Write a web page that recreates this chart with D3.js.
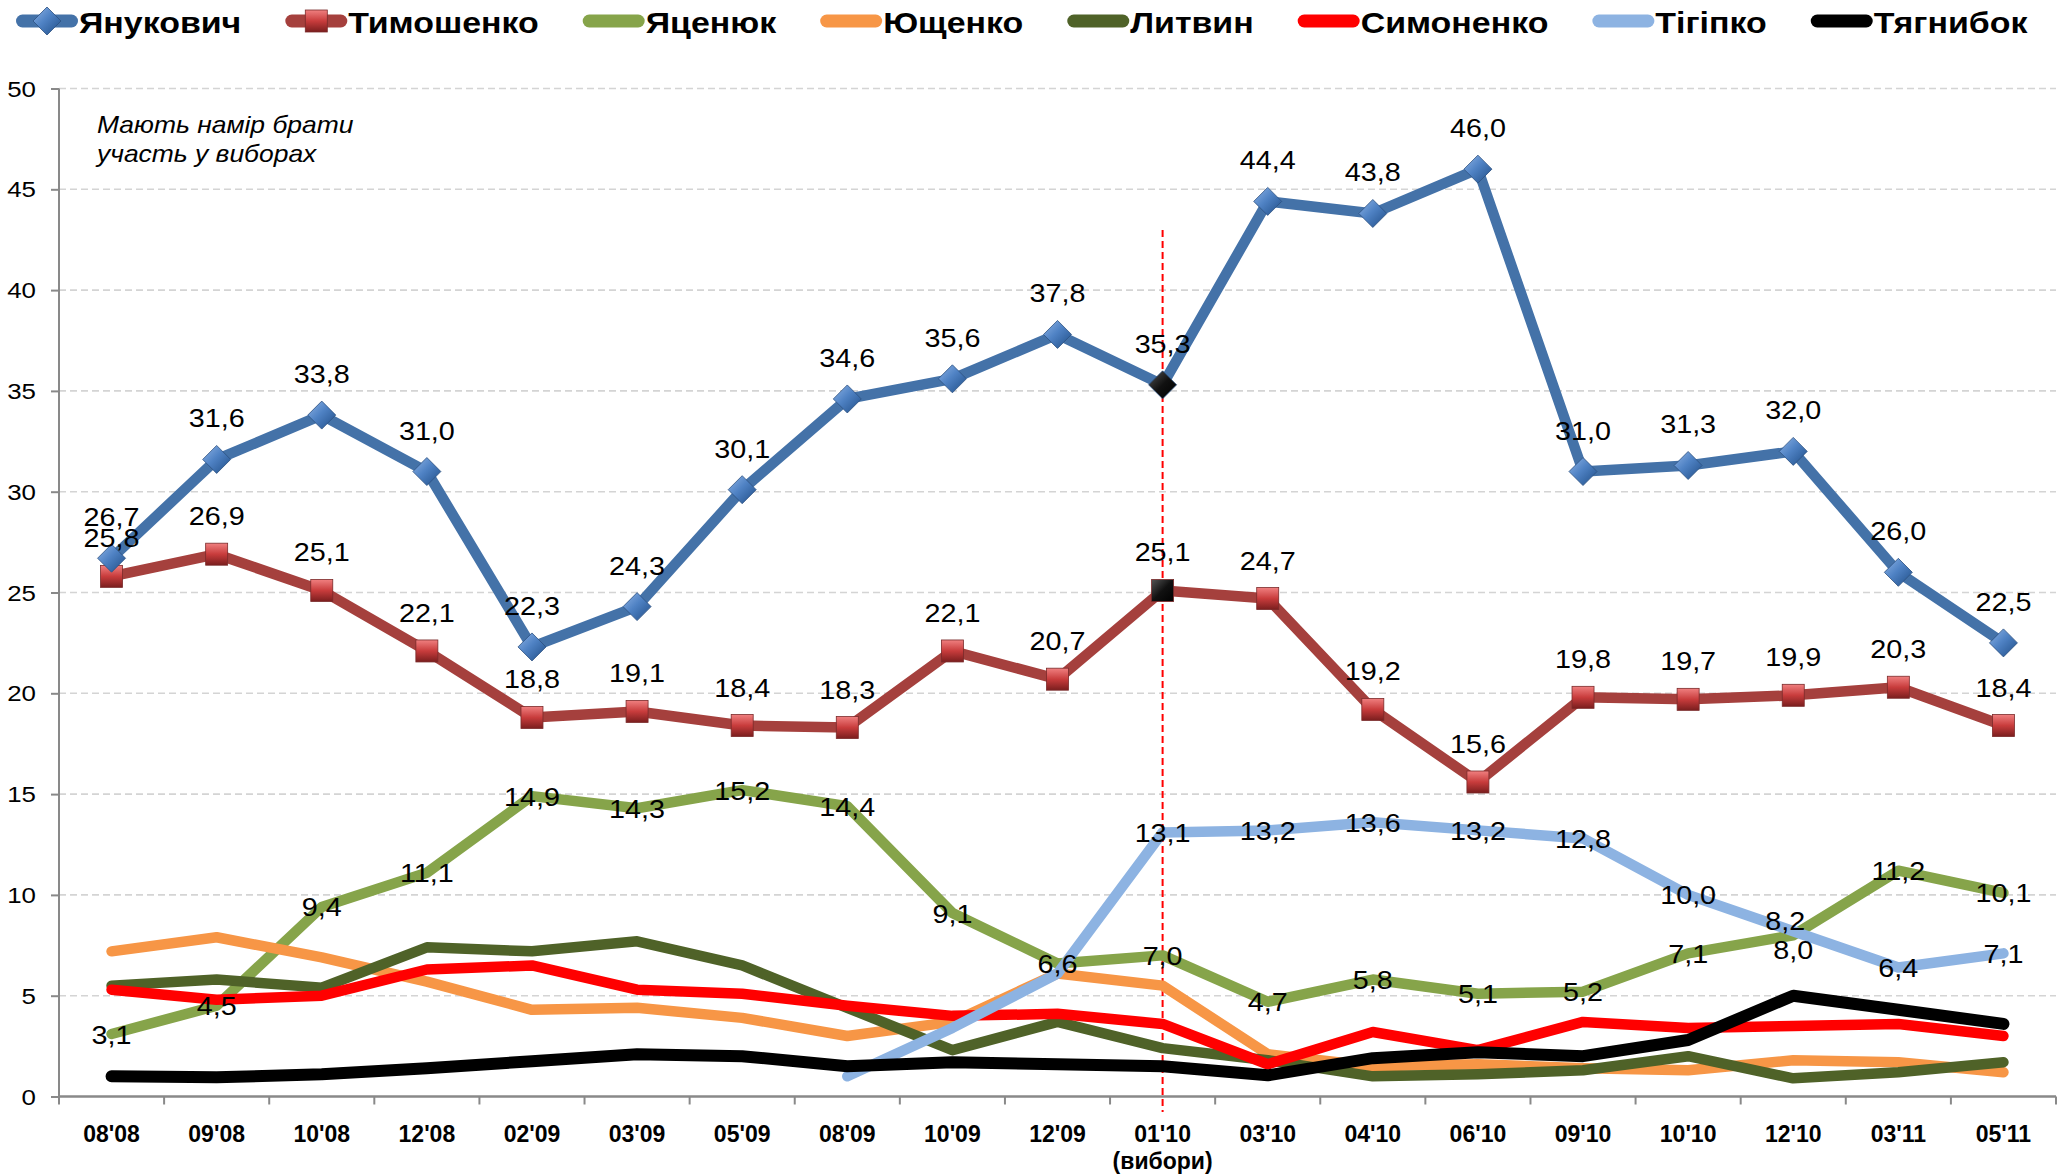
<!DOCTYPE html>
<html>
<head>
<meta charset="utf-8">
<script src="https://cdn.jsdelivr.net/npm/d3@7"></script>
<style>
  html, body { margin: 0; padding: 0; background: #ffffff; }
  svg { display: block; font-family: "Liberation Sans", Arial, sans-serif; }
</style>
</head>
<body>
<svg id="chart" width="2058" height="1176"></svg>
<script>
// ---------------- DATA ----------------
const categories = ["08'08","09'08","10'08","12'08","02'09","03'09","05'09","08'09","10'09","12'09",
                    "01'10","03'10","04'10","06'10","09'10","10'10","12'10","03'11","05'11"];
const electionCategory = "01'10";
const electionNote = "(вибори)";

const seriesNames = ["Янукович","Тимошенко","Яценюк","Ющенко","Литвин","Симоненко","Тігіпко","Тягнибок"];

const yanukovych = [26.7,31.6,33.8,31.0,22.3,24.3,30.1,34.6,35.6,37.8,35.3,44.4,43.8,46.0,31.0,31.3,32.0,26.0,22.5];
const tymoshenko = [25.8,26.9,25.1,22.1,18.8,19.1,18.4,18.3,22.1,20.7,25.1,24.7,19.2,15.6,19.8,19.7,19.9,20.3,18.4];
const yatseniuk  = [3.1,4.5,9.4,11.1,14.9,14.3,15.2,14.4,9.1,6.6,7.0,4.7,5.8,5.1,5.2,7.1,8.0,11.2,10.1];
const yushchenko = [7.2,7.9,6.9,5.7,4.3,4.4,3.9,3.0,3.7,6.1,5.5,2.1,1.5,1.6,1.4,1.3,1.8,1.7,1.2];
const lytvyn     = [5.5,5.8,5.4,7.4,7.2,7.7,6.5,4.4,2.3,3.7,2.4,1.8,1.0,1.1,1.3,2.0,0.9,1.2,1.7];
const symonenko  = [5.3,4.8,5.0,6.3,6.5,5.3,5.1,4.5,4.0,4.1,3.6,1.6,3.2,2.3,3.7,3.4,3.5,3.6,3.0];
const tihipko    = [null,null,null,null,null,null,null,1.0,3.4,6.1,13.1,13.2,13.6,13.2,12.8,10.0,8.2,6.4,7.1];
const tyahnybok  = [1.0,0.95,1.1,1.4,1.75,2.1,2.0,1.5,1.7,1.6,1.5,1.05,1.9,2.2,2.0,2.8,5.0,4.3,3.6];

// which points carry a value label (index from which labels start)
const labelFrom = { "Янукович": 0, "Тимошенко": 0, "Яценюк": 0, "Тігіпко": 10 };

const yTicks = [0,5,10,15,20,25,30,35,40,45,50];
const noteLines = ["Мають намір брати", "участь у виборах"];

// ---------------- STYLE ----------------
const W = 2058, H = 1176;
const plot = { left: 59, right: 2056, top: 88.5, bottom: 1096.5 };
const SX = 1.15; // horizontal text stretch of the reference
const colors = {
  "Янукович": "#4472A8", "Тимошенко": "#A5403D", "Яценюк": "#86A44A", "Ющенко": "#F79646",
  "Литвин": "#4F6228", "Симоненко": "#FF0000", "Тігіпко": "#8DB3E2", "Тягнибок": "#000000"
};
const widths = { "Тягнибок": 12 };
const seriesValues = [yanukovych, tymoshenko, yatseniuk, yushchenko, lytvyn, symonenko, tihipko, tyahnybok];
const series = seriesNames.map((n, i) => ({ name: n, values: seriesValues[i] }));

const svg = d3.select("#chart");
const defs = svg.append("defs");

function linGrad(id, stops, x1, y1, x2, y2) {
  const g = defs.append("linearGradient").attr("id", id)
    .attr("x1", x1).attr("y1", y1).attr("x2", x2).attr("y2", y2);
  stops.forEach(s => g.append("stop").attr("offset", s[0]).attr("stop-color", s[1]));
}
linGrad("gBlue", [["0%","#8fb4e6"],["45%","#4f82c4"],["100%","#1f4d86"]], "0%","0%","100%","100%");
linGrad("gRed", [["0%","#f08080"],["50%","#c83c3c"],["100%","#7a1e1e"]], "0%","0%","0%","100%");
linGrad("gBlack", [["0%","#555"],["50%","#111"],["100%","#000"]], "0%","0%","100%","100%");

const x = d3.scaleBand().domain(categories).range([plot.left, plot.right]).paddingInner(0).paddingOuter(0);
const y = d3.scaleLinear().domain([0, 50]).range([plot.bottom, plot.top]);
const cx = c => x(c) + x.bandwidth() / 2;

function stretchedText(sel, tx, ty, txt) {
  return sel.append("text").attr("transform", `translate(${tx},${ty}) scale(${SX},1)`).text(txt);
}

// gridlines
svg.append("g").selectAll("line").data(yTicks.filter(t => t > 0)).join("line")
  .attr("x1", plot.left).attr("x2", plot.right)
  .attr("y1", d => y(d)).attr("y2", d => y(d))
  .attr("stroke", "#d4d4d4").attr("stroke-width", 1.6).attr("stroke-dasharray", "7,4");

// y axis
const yAxis = svg.append("g").attr("transform", `translate(${plot.left},0)`)
  .call(d3.axisLeft(y).tickValues(yTicks).tickSize(8).tickFormat(""));
yAxis.select(".domain").attr("stroke", "#898989").attr("stroke-width", 2).attr("d", `M0,${plot.top}V${plot.bottom}`);
yAxis.selectAll(".tick line").attr("stroke", "#898989").attr("stroke-width", 2);
const yLab = svg.append("g").attr("font-size", 22.5).attr("text-anchor", "end").attr("fill", "#000");
yTicks.forEach(t => stretchedText(yLab, 36, y(t) + 8, String(t)));

// x axis
const xAxis = svg.append("g").attr("transform", `translate(0,${plot.bottom})`)
  .call(d3.axisBottom(x).tickSize(0).tickFormat(""));
xAxis.select(".domain").attr("stroke", "#898989").attr("stroke-width", 2.5).attr("d", `M${plot.left},0H${plot.right}`);
const bounds = categories.map(c => x(c)).concat([plot.right]);
svg.append("g").selectAll("line").data(bounds).join("line")
  .attr("x1", d => d).attr("x2", d => d).attr("y1", plot.bottom).attr("y2", plot.bottom + 8)
  .attr("stroke", "#898989").attr("stroke-width", 2);
const xLab = svg.append("g").attr("font-size", 23).attr("font-weight", "bold").attr("text-anchor", "middle");
categories.forEach(c => xLab.append("text").attr("x", cx(c)).attr("y", 1142).text(c));
xLab.append("text").attr("x", cx(electionCategory)).attr("y", 1169).text(electionNote);

// election dashed line
svg.append("line").attr("x1", cx(electionCategory)).attr("x2", cx(electionCategory))
  .attr("y1", 230).attr("y2", 1112)
  .attr("stroke", "#ff0000").attr("stroke-width", 2).attr("stroke-dasharray", "7,4");

// lines (draw lower series first, main series on top)
const line = d3.line().defined(d => d.v != null).x(d => cx(d.c)).y(d => y(d.v));
const drawOrder = ["Яценюк","Ющенко","Литвин","Симоненко","Тігіпко","Тягнибок","Тимошенко","Янукович"];
const linesG = svg.append("g");
drawOrder.forEach(n => {
  const s = series.find(d => d.name === n);
  const pts = s.values.map((v, i) => ({ c: categories[i], v }));
  linesG.append("path").datum(pts).attr("d", line)
    .attr("fill", "none").attr("stroke", colors[n]).attr("stroke-width", widths[n] || 10.5)
    .attr("stroke-linejoin", "round").attr("stroke-linecap", "round");
});

// markers
const mk = svg.append("g");
function diamond(g, px, py, r, fill) {
  g.append("path").attr("d", `M${px},${py - r}L${px + r},${py}L${px},${py + r}L${px - r},${py}Z`)
    .attr("fill", fill).attr("stroke", "#2c5080").attr("stroke-width", 0.8);
}
function square(g, px, py, r, fill) {
  g.append("rect").attr("x", px - r).attr("y", py - r).attr("width", 2 * r).attr("height", 2 * r)
    .attr("fill", fill).attr("stroke", "#7a2a2a").attr("stroke-width", 0.8);
}
tymoshenko.forEach((v, i) => square(mk, cx(categories[i]), y(v), 11,
  categories[i] === electionCategory ? "url(#gBlack)" : "url(#gRed)"));
yanukovych.forEach((v, i) => diamond(mk, cx(categories[i]), y(v), 14,
  categories[i] === electionCategory ? "url(#gBlack)" : "url(#gBlue)"));

// value labels
const fmt = v => d3.format(".1f")(v).replace(".", ",");
const nudge = { "Тігіпко|12'10": [-8, -11], "Яценюк|12'10": [0, 14] };
const labG = svg.append("g").attr("font-size", 25).attr("text-anchor", "middle").attr("fill", "#000");
Object.keys(labelFrom).forEach(n => {
  const s = series.find(d => d.name === n);
  s.values.forEach((v, i) => {
    if (v == null || i < labelFrom[n]) return;
    const c = categories[i];
    let dy = n === "Янукович" ? -32 : n === "Тимошенко" ? -29 : 9.5;
    let dx = 0;
    const k = n + "|" + c;
    if (nudge[k]) { dx = nudge[k][0]; dy += nudge[k][1]; }
    stretchedText(labG, cx(c) + dx, y(v) + dy, fmt(v));
  });
});

// annotation
const note = svg.append("g").attr("font-size", 23).attr("font-style", "italic");
noteLines.forEach((t, i) => stretchedText(note, 97, 133 + i * 29, t));

// legend
const leg = svg.append("g");
let lx = 16;
const legY = 21;
series.forEach(s => {
  const n = s.name;
  leg.append("line").attr("x1", lx + 6.5).attr("x2", lx + 55.5).attr("y1", legY).attr("y2", legY)
    .attr("stroke", colors[n]).attr("stroke-width", 13).attr("stroke-linecap", "round");
  if (n === "Янукович") diamond(leg, lx + 31, legY, 14, "url(#gBlue)");
  if (n === "Тимошенко") square(leg, lx + 31, legY, 11, "url(#gRed)");
  const t = leg.append("text").attr("font-size", 29.5).attr("font-weight", "bold")
    .attr("transform", `translate(${lx + 63},${legY + 12}) scale(${SX},1)`).text(n);
  const w = t.node().getComputedTextLength() * SX;
  lx = lx + 63 + w + 44;
});
</script>
</body>
</html>
